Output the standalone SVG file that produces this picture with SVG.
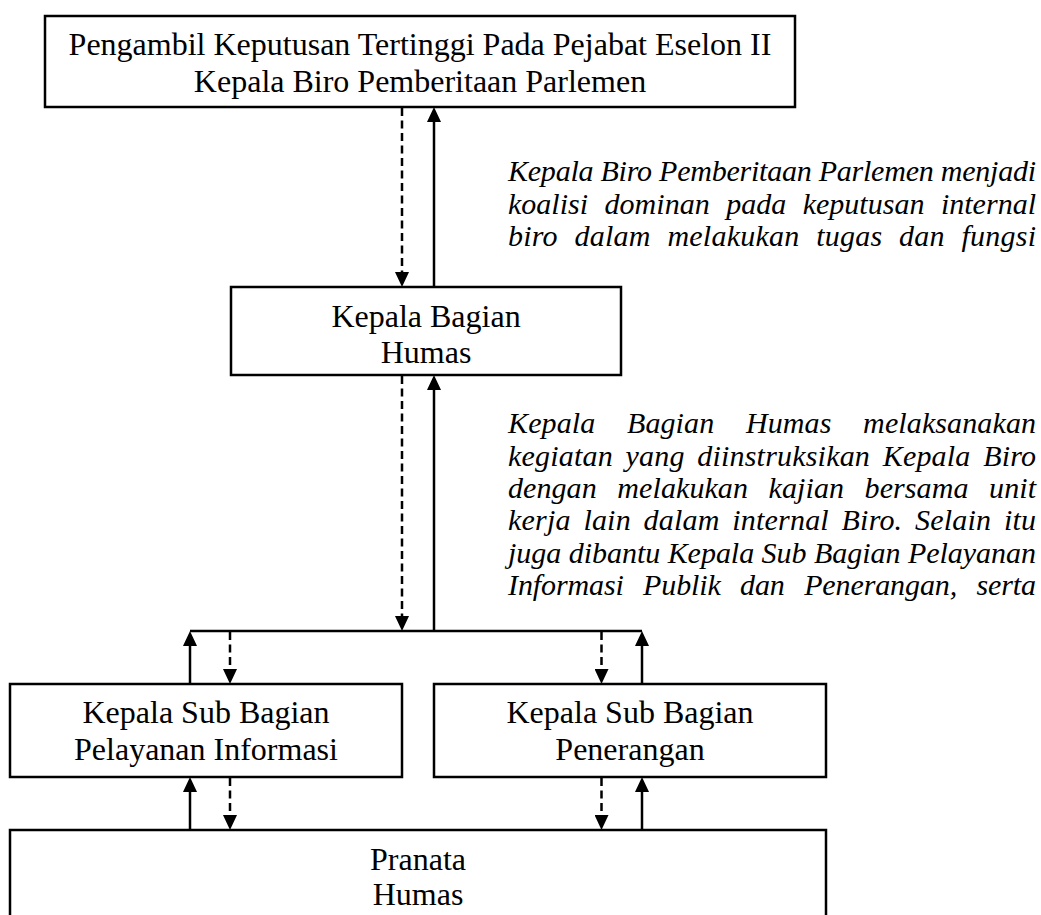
<svg xmlns="http://www.w3.org/2000/svg" width="1041" height="915" viewBox="0 0 1041 915">
<style>
.box{fill:#fff;stroke:#000;stroke-width:2.5}
.lbl{font-family:"Liberation Serif","Times New Roman",serif;font-size:32px;fill:#000;text-anchor:middle}
.note{font-family:"Liberation Serif","Times New Roman",serif;font-size:30px;font-style:italic;fill:#000}
.solid{stroke:#000;stroke-width:2.5;fill:none}
.dash{stroke:#000;stroke-width:2.5;fill:none;stroke-dasharray:8 4.5}
</style>
<defs>
<marker id="ah" viewBox="0 0 15 14" refX="5" refY="7" markerWidth="15" markerHeight="14" markerUnits="userSpaceOnUse" orient="auto">
<path d="M0,0 L15,7 L0,14 Z" fill="#000"/>
</marker>
</defs>
<rect width="1041" height="915" fill="#fff"/>

<g id="connectors">
<line class="dash" x1="402" y1="108" x2="402" y2="277" marker-end="url(#ah)"/>
<line class="solid" x1="434" y1="287" x2="434" y2="117" marker-end="url(#ah)"/>
<line class="dash" x1="402" y1="376" x2="402" y2="621" marker-end="url(#ah)"/>
<line class="solid" x1="434" y1="631" x2="434" y2="385" marker-end="url(#ah)"/>
<line class="solid" x1="190" y1="631" x2="642" y2="631"/>
<line class="solid" x1="190" y1="684" x2="190" y2="641" marker-end="url(#ah)"/>
<line class="dash" x1="230" y1="632" x2="230" y2="674" marker-end="url(#ah)"/>
<line class="dash" x1="601.5" y1="632" x2="601.5" y2="674" marker-end="url(#ah)"/>
<line class="solid" x1="642" y1="684" x2="642" y2="641" marker-end="url(#ah)"/>
<line class="solid" x1="190" y1="830" x2="190" y2="787" marker-end="url(#ah)"/>
<line class="dash" x1="230" y1="778" x2="230" y2="820" marker-end="url(#ah)"/>
<line class="dash" x1="601.5" y1="778" x2="601.5" y2="820" marker-end="url(#ah)"/>
<line class="solid" x1="642" y1="830" x2="642" y2="787" marker-end="url(#ah)"/>
</g>

<g id="node-top">
<rect class="box" x="45" y="16" width="750" height="91"/>
<text class="lbl" x="420" y="55">Pengambil Keputusan Tertinggi Pada Pejabat Eselon II</text>
<text class="lbl" x="420" y="92">Kepala Biro Pemberitaan Parlemen</text>
</g>

<g id="node-kabag">
<rect class="box" x="231" y="287" width="390" height="88"/>
<text class="lbl" x="426" y="327">Kepala Bagian</text>
<text class="lbl" x="426" y="363">Humas</text>
</g>

<g id="node-subpi">
<rect class="box" x="10" y="684" width="392" height="93"/>
<text class="lbl" x="206" y="723">Kepala Sub Bagian</text>
<text class="lbl" x="206" y="760">Pelayanan Informasi</text>
</g>

<g id="node-subpen">
<rect class="box" x="434" y="684" width="392" height="93"/>
<text class="lbl" x="630" y="723">Kepala Sub Bagian</text>
<text class="lbl" x="630" y="760">Penerangan</text>
</g>

<g id="node-pranata">
<rect class="box" x="10" y="830" width="816" height="130"/>
<text class="lbl" x="418" y="870">Pranata</text>
<text class="lbl" x="418" y="905">Humas</text>
</g>

<g id="note-1">
<text class="note" x="508" y="181" textLength="528" lengthAdjust="spacing">Kepala Biro Pemberitaan Parlemen menjadi</text>
<text class="note" x="508" y="213.5" word-spacing="9" textLength="528" lengthAdjust="spacing">koalisi dominan pada keputusan internal</text>
<text class="note" x="508" y="246" word-spacing="9" textLength="528" lengthAdjust="spacing">biro dalam melakukan tugas dan fungsi</text>
</g>

<g id="note-2">
<text class="note" x="508" y="433" word-spacing="24" textLength="528" lengthAdjust="spacing">Kepala Bagian Humas melaksanakan</text>
<text class="note" x="508" y="465.5" word-spacing="5" textLength="528" lengthAdjust="spacing">kegiatan yang diinstruksikan Kepala Biro</text>
<text class="note" x="508" y="498" word-spacing="13" textLength="528" lengthAdjust="spacing">dengan melakukan kajian bersama unit</text>
<text class="note" x="508" y="530" word-spacing="5" textLength="528" lengthAdjust="spacing">kerja lain dalam internal Biro. Selain itu</text>
<text class="note" x="508" y="562.5" textLength="528" lengthAdjust="spacing">juga dibantu Kepala Sub Bagian Pelayanan</text>
<text class="note" x="508" y="595" word-spacing="12" textLength="528" lengthAdjust="spacing">Informasi Publik dan Penerangan, serta</text>
</g>
</svg>
